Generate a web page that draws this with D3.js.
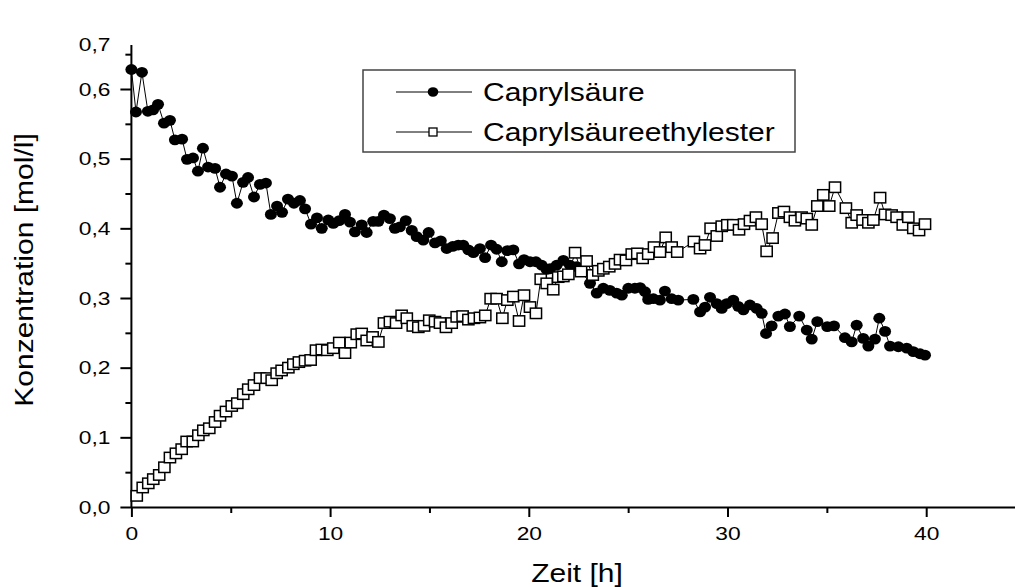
<!DOCTYPE html>
<html>
<head>
<meta charset="utf-8">
<script src="https://cdn.jsdelivr.net/npm/d3@7"></script>
<style>
  body { margin: 0; background: #fff; }
  svg { display: block; }
  text { font-family: "Liberation Sans", Arial, sans-serif; fill: #000; }
</style>
</head>
<body>
<svg id="chart" width="1015" height="587"></svg>
<script>
// Caprylsäure (octanoic acid) concentration over time
const caprylTime = [0, 0.23, 0.53, 0.83, 1.09, 1.34, 1.64, 1.94, 2.19, 2.55, 2.80, 3.10, 3.35, 3.60, 3.86, 4.21, 4.46, 4.76, 5.06, 5.31, 5.62, 5.87, 6.17, 6.47, 6.77, 7.02, 7.33, 7.58, 7.88, 8.18, 8.48, 8.74, 9.04, 9.34, 9.58, 9.91, 10.16, 10.46, 10.75, 11.0, 11.25, 11.59, 11.84, 12.17, 12.43, 12.71, 13.01, 13.26, 13.51, 13.81, 14.11, 14.36, 14.69, 14.96, 15.28, 15.57, 15.87, 16.17, 16.45, 16.70, 16.96, 17.21, 17.54, 17.80, 18.10, 18.38, 18.64, 18.92, 19.22, 19.51, 19.76, 20.06, 20.36, 20.65, 20.90, 21.07, 21.40, 21.74, 22.07, 22.41, 22.66, 23.08, 23.42, 23.75, 24.08, 24.42, 24.68, 25.01, 25.34, 25.60, 25.85, 26.01, 26.27, 26.60, 26.85, 27.19, 27.52, 28.28, 28.62, 28.87, 29.12, 29.46, 29.71, 29.96, 30.29, 30.54, 30.80, 31.13, 31.47, 31.72, 31.94, 32.22, 32.56, 32.89, 33.14, 33.61, 33.99, 34.24, 34.52, 35.02, 35.36, 35.91, 36.25, 36.50, 36.83, 37.09, 37.42, 37.64, 37.93, 38.18, 38.60, 39.02, 39.35, 39.69, 39.94];
const caprylConc = [0.628, 0.567, 0.624, 0.568, 0.570, 0.578, 0.551, 0.555, 0.527, 0.528, 0.499, 0.501, 0.482, 0.515, 0.488, 0.486, 0.459, 0.478, 0.475, 0.436, 0.466, 0.473, 0.445, 0.463, 0.465, 0.420, 0.432, 0.423, 0.442, 0.436, 0.440, 0.428, 0.406, 0.415, 0.400, 0.412, 0.407, 0.411, 0.420, 0.409, 0.395, 0.405, 0.394, 0.410, 0.410, 0.419, 0.414, 0.400, 0.402, 0.411, 0.397, 0.388, 0.383, 0.394, 0.379, 0.382, 0.371, 0.374, 0.376, 0.376, 0.369, 0.365, 0.371, 0.358, 0.376, 0.370, 0.352, 0.368, 0.369, 0.349, 0.355, 0.352, 0.352, 0.347, 0.341, 0.342, 0.347, 0.354, 0.347, 0.345, 0.338, 0.321, 0.307, 0.314, 0.311, 0.307, 0.304, 0.314, 0.314, 0.315, 0.309, 0.298, 0.299, 0.297, 0.310, 0.299, 0.297, 0.298, 0.280, 0.287, 0.301, 0.292, 0.285, 0.292, 0.297, 0.288, 0.283, 0.290, 0.285, 0.278, 0.249, 0.260, 0.274, 0.277, 0.259, 0.274, 0.254, 0.241, 0.266, 0.259, 0.260, 0.243, 0.237, 0.261, 0.242, 0.231, 0.241, 0.271, 0.252, 0.231, 0.230, 0.228, 0.223, 0.220, 0.218];

// Caprylsäureethylester (ethyl octanoate) concentration over time
const esterTime = [0.27, 0.57, 0.85, 1.10, 1.40, 1.66, 1.94, 2.24, 2.53, 2.78, 3.09, 3.37, 3.62, 3.92, 4.21, 4.46, 4.76, 5.05, 5.33, 5.63, 5.88, 6.17, 6.47, 6.81, 7.06, 7.31, 7.56, 7.90, 8.15, 8.43, 8.74, 9.02, 9.29, 9.58, 9.86, 10.16, 10.46, 10.75, 11.04, 11.34, 11.59, 11.84, 12.14, 12.43, 12.71, 13.01, 13.32, 13.60, 13.86, 14.16, 14.44, 14.73, 14.99, 15.28, 15.53, 15.83, 16.12, 16.37, 16.67, 16.96, 17.24, 17.54, 17.81, 18.08, 18.38, 18.67, 18.92, 19.22, 19.51, 19.76, 20.06, 20.36, 20.60, 20.90, 21.23, 21.48, 21.74, 21.99, 22.33, 22.63, 22.91, 23.22, 23.50, 23.75, 24.05, 24.34, 24.59, 24.89, 25.18, 25.46, 25.73, 26.01, 26.30, 26.60, 26.89, 27.19, 27.47, 28.31, 28.62, 28.87, 29.15, 29.46, 29.71, 29.99, 30.29, 30.58, 30.83, 31.13, 31.43, 31.72, 31.97, 32.27, 32.56, 32.84, 33.14, 33.39, 33.73, 33.99, 34.24, 34.52, 34.82, 35.12, 35.41, 35.96, 36.25, 36.50, 36.80, 37.09, 37.34, 37.68, 37.93, 38.26, 38.51, 38.82, 39.10, 39.35, 39.64, 39.94];
const esterConc = [0.016, 0.028, 0.034, 0.040, 0.046, 0.057, 0.071, 0.077, 0.083, 0.094, 0.094, 0.103, 0.110, 0.113, 0.122, 0.131, 0.137, 0.145, 0.149, 0.162, 0.169, 0.175, 0.185, 0.185, 0.182, 0.192, 0.196, 0.200, 0.205, 0.208, 0.210, 0.211, 0.225, 0.226, 0.225, 0.228, 0.236, 0.221, 0.236, 0.248, 0.249, 0.239, 0.244, 0.237, 0.264, 0.266, 0.264, 0.275, 0.271, 0.260, 0.258, 0.260, 0.268, 0.266, 0.264, 0.258, 0.264, 0.273, 0.274, 0.269, 0.271, 0.272, 0.275, 0.299, 0.299, 0.271, 0.297, 0.302, 0.267, 0.304, 0.287, 0.278, 0.327, 0.321, 0.312, 0.330, 0.331, 0.334, 0.365, 0.338, 0.353, 0.333, 0.339, 0.342, 0.345, 0.349, 0.355, 0.354, 0.363, 0.364, 0.357, 0.363, 0.373, 0.366, 0.387, 0.373, 0.366, 0.381, 0.371, 0.376, 0.400, 0.389, 0.403, 0.405, 0.405, 0.398, 0.406, 0.411, 0.416, 0.406, 0.367, 0.386, 0.422, 0.424, 0.416, 0.411, 0.416, 0.414, 0.405, 0.432, 0.448, 0.432, 0.459, 0.429, 0.408, 0.419, 0.412, 0.408, 0.412, 0.444, 0.420, 0.419, 0.416, 0.405, 0.416, 0.400, 0.397, 0.406];

// Axis ticks and labels
const xTicks = [0, 10, 20, 30, 40];
const xMinorTicks = [5, 15, 25, 35];
const yTicks = [0, 0.1, 0.2, 0.3, 0.4, 0.5, 0.6];
const yMinorTicks = [0.05, 0.15, 0.25, 0.35, 0.45, 0.55, 0.65];
const yTopLabel = "0,7";
const seriesNames = ["Caprylsäure", "Caprylsäureethylester"];
const xTitle = "Zeit [h]";
const yTitle = "Konzentration [mol/l]";

const svg = d3.select("#chart");
const stretch = 1.2;   // glyphs are drawn somewhat wide along the baseline

const x = d3.scaleLinear().domain([0, 45]).range([131.4, 131.4 + 45 * 19.87]);
const y = d3.scaleLinear().domain([0, 0.6]).range([507, 89]);
const axisTopPx = 45;

const fmt = d => d.toFixed(1).replace(".", ",");

// x axis
const gx = svg.append("g").attr("transform", `translate(0,${y(0)})`);
gx.call(d3.axisBottom(x).tickValues(xTicks).tickSize(10).tickSizeOuter(0).tickPadding(10).tickFormat(d3.format("d")));
gx.append("g").call(d3.axisBottom(x).tickValues(xMinorTicks).tickSize(6).tickSizeOuter(0).tickFormat(""))
  .select(".domain").remove();
gx.selectAll(".tick text").attr("font-size", 19).attr("transform", `scale(${stretch},1)`);

// y axis
const gy = svg.append("g").attr("transform", `translate(${x(0)},0)`);
gy.call(d3.axisLeft(y).tickValues(yTicks).tickSize(11).tickSizeOuter(0).tickFormat(fmt));
gy.select(".domain").remove();
gy.append("g").call(d3.axisLeft(y).tickValues(yMinorTicks).tickSize(6).tickSizeOuter(0).tickFormat(""))
  .select(".domain").remove();
gy.selectAll(".tick text").attr("font-size", 19).attr("x", 0)
  .attr("transform", `translate(-21,0) scale(${stretch},1)`);
gy.append("line").attr("x1", 0).attr("x2", 0).attr("y1", y(0)).attr("y2", axisTopPx)
  .attr("stroke", "#000").attr("stroke-width", 2);
gy.append("text").attr("font-size", 19).attr("text-anchor", "end").attr("dy", "0.32em")
  .attr("transform", `translate(-21,${axisTopPx}) scale(${stretch},1)`).text(yTopLabel);
svg.selectAll(".domain").attr("stroke-width", 2);
svg.selectAll(".tick line").attr("stroke-width", 2);

// axis titles
svg.append("text").attr("font-size", 25).attr("text-anchor", "middle")
  .attr("transform", `translate(577,582) scale(${stretch},1)`).text(xTitle);
svg.append("text").attr("font-size", 25).attr("text-anchor", "middle")
  .attr("transform", `translate(33,270) rotate(-90) scale(${stretch},1)`).text(yTitle);

// series
const capryl = caprylTime.map((t, i) => ({ t, v: caprylConc[i] }));
const ester = esterTime.map((t, i) => ({ t, v: esterConc[i] }));
const line = d3.line().x(d => x(d.t)).y(d => y(d.v));

svg.append("path").datum(capryl).attr("d", line).attr("fill", "none").attr("stroke", "#000").attr("stroke-width", 1);
svg.append("g").selectAll("ellipse").data(capryl).join("ellipse")
  .attr("cx", d => x(d.t)).attr("cy", d => y(d.v)).attr("rx", 6).attr("ry", 5.4).attr("fill", "#000");

svg.append("path").datum(ester).attr("d", line).attr("fill", "none").attr("stroke", "#000").attr("stroke-width", 1);
svg.append("g").selectAll("rect").data(ester).join("rect")
  .attr("x", d => x(d.t) - 5.6).attr("y", d => y(d.v) - 5.2).attr("width", 11.2).attr("height", 10.4)
  .attr("fill", "#fff").attr("stroke", "#000").attr("stroke-width", 1.5);

// legend
const lg = svg.append("g");
lg.append("rect").attr("x", 363).attr("y", 70).attr("width", 432).attr("height", 82)
  .attr("fill", "#fff").attr("stroke", "#444").attr("stroke-width", 1.5);
const rows = [92, 132];
rows.forEach((ry, i) => {
  lg.append("line").attr("x1", 396).attr("x2", 472).attr("y1", ry).attr("y2", ry).attr("stroke", "#000").attr("stroke-width", 1);
  if (i === 0) {
    lg.append("ellipse").attr("cx", 433).attr("cy", ry).attr("rx", 5.3).attr("ry", 4.8).attr("fill", "#000");
  } else {
    lg.append("rect").attr("x", 429).attr("y", ry - 4).attr("width", 8).attr("height", 8)
      .attr("fill", "#fff").attr("stroke", "#000").attr("stroke-width", 1.3);
  }
  lg.append("text").attr("font-size", 25).attr("dy", "0.35em")
    .attr("transform", `translate(483,${ry}) scale(${stretch},1)`).text(seriesNames[i]);
});
</script>
</body>
</html>
